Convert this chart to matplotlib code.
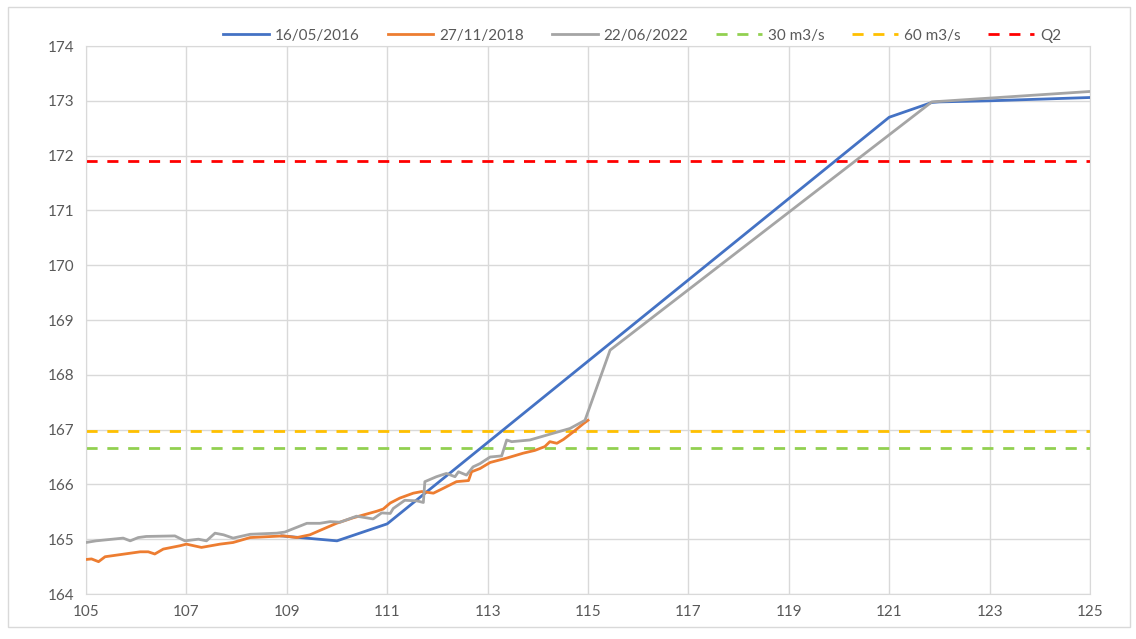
import matplotlib
matplotlib.use("Agg")
import matplotlib.pyplot as plt
from matplotlib.patches import Rectangle

# --- data ---
blue_x = [108.9, 109.26, 110.0, 111.0, 121.0, 121.85, 122.0, 123.0, 125.0]
blue_y = [165.06, 165.03, 164.97, 165.28, 172.70, 172.97, 172.98, 173.0, 173.06]

orange_x = [105.0, 105.11, 105.25, 105.38, 106.08, 106.24, 106.37, 106.54, 106.87, 107.0,
            107.3, 107.67, 107.93, 108.27, 108.93, 109.2, 109.46, 109.66, 109.99, 110.32,
            110.79, 110.92, 111.06, 111.25, 111.52, 111.69, 111.92, 112.12, 112.38, 112.62,
            112.68, 112.85, 113.05, 113.38, 113.71, 113.94, 114.14, 114.24, 114.38, 114.51,
            114.71, 114.91, 115.0]
orange_y = [164.63, 164.64, 164.59, 164.68, 164.77, 164.77, 164.73, 164.82, 164.88, 164.91,
            164.85, 164.91, 164.94, 165.03, 165.06, 165.03, 165.08, 165.16, 165.29, 165.39,
            165.51, 165.55, 165.66, 165.75, 165.84, 165.87, 165.84, 165.93, 166.05, 166.07,
            166.23, 166.29, 166.40, 166.48, 166.57, 166.62, 166.69, 166.78, 166.75, 166.82,
            166.96, 167.11, 167.17]

gray_x = [105.0, 105.2, 105.74, 105.88, 106.04, 106.2, 106.77, 106.97, 107.24, 107.4,
          107.57, 107.74, 107.93, 108.27, 108.8, 108.96, 109.4, 109.66, 109.86, 110.06,
          110.39, 110.72, 110.89, 111.06, 111.12, 111.35, 111.59, 111.72, 111.75, 111.98,
          112.18, 112.35, 112.42, 112.58, 112.71, 112.85, 113.05, 113.28, 113.38, 113.48,
          113.84, 114.18, 114.64, 114.94, 115.44, 121.85, 125.0]
gray_y = [164.94, 164.97, 165.02, 164.97, 165.03, 165.05, 165.06, 164.97, 165.0, 164.97,
          165.11, 165.08, 165.02, 165.09, 165.11, 165.13, 165.29, 165.29, 165.32, 165.31,
          165.42, 165.37, 165.48, 165.47, 165.56, 165.71, 165.70, 165.67, 166.05, 166.14,
          166.20, 166.14, 166.23, 166.17, 166.32, 166.38, 166.50, 166.52, 166.81, 166.78,
          166.81, 166.90, 167.02, 167.17, 168.45, 172.98, 173.17]

series_labels = ["16/05/2016", "27/11/2018", "22/06/2022"]
ref_labels = ["30 m3/s", "60 m3/s", "Q2"]
ref_levels = [166.67, 166.98, 171.91]

x_ticks = list(range(105, 126, 2))
y_ticks = list(range(164, 175, 1))

# --- plot ---
plt.rcParams['font.family'] = ['Lato', 'DejaVu Sans']
fig = plt.figure(figsize=(11.36, 6.39), dpi=100)
ax = fig.add_axes([86/1136, 1-594/639, (1090-86)/1136, (594-46)/639])

ax.plot(blue_x, blue_y, color="#4472C4", lw=2.0, label=series_labels[0], zorder=3)
ax.plot(orange_x, orange_y, color="#ED7D31", lw=2.0, label=series_labels[1], zorder=4)
ax.plot(gray_x, gray_y, color="#A5A5A5", lw=2.0, label=series_labels[2], zorder=5)

ref_colors = ["#92D050", "#FFC000", "#FF0000"]
for lvl, lab, c in zip(ref_levels, ref_labels, ref_colors):
    ax.axhline(lvl, color=c, lw=2.0, ls=(0, (4, 3.5)), label=lab, zorder=2)

ax.set_xlim(105, 125)
ax.set_ylim(164, 174)
ax.set_xticks(x_ticks)
ax.set_yticks(y_ticks)
ax.grid(True, color="#D9D9D9", lw=1.0)
ax.set_axisbelow(True)
for s in ax.spines.values():
    s.set_color("#D9D9D9")
ax.tick_params(length=0, labelsize=11, colors="#595959", pad=8)

leg = ax.legend(loc="lower center", bbox_to_anchor=(0.554, 0.995), ncol=6, frameon=False,
                fontsize=11, handlelength=3.0, columnspacing=1.8, handletextpad=0.4,
                labelcolor="#595959", borderaxespad=0.0)

fig.patches.append(Rectangle((8/1136, 12/639), 1122/1136, 620/639, transform=fig.transFigure,
                             fill=False, edgecolor="#D9D9D9", lw=1.0))

fig.savefig("out.png", dpi=100)
